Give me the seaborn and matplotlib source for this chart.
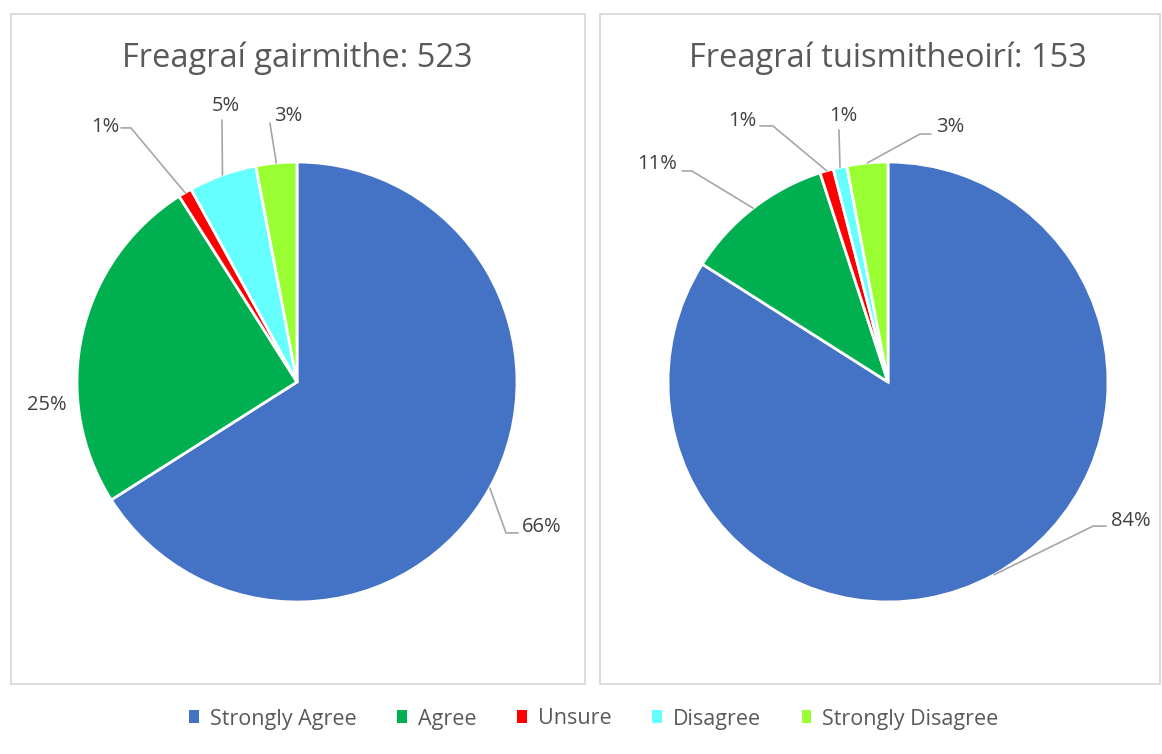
import numpy as np
import matplotlib.pyplot as plt
import seaborn as sns
from matplotlib.patches import Patch, Rectangle

categories = ["Strongly Agree", "Agree", "Unsure", "Disagree", "Strongly Disagree"]
professionals = [66, 25, 1, 5, 3]
parents = [84, 11, 1, 1, 3]
titles = ["Freagraí gairmithe: 523", "Freagraí tuismitheoirí: 153"]

colors = ["#4472C4", "#00B050", "#FF0000", "#66FFFF", "#99FF33"]

# label placement in pie-radius units: (text pos, leader points after the wedge edge)
left_layout = [
    ((1.114, -0.659), [(0.950, -0.686), (1.005, -0.686)]),
    ((-1.136, -0.105), None),
    ((-0.873, 1.159), [(-0.755, 1.155), (-0.80, 1.155)]),
    ((-0.323, 1.255), [(-0.341, 1.191)]),
    ((-0.041, 1.209), [(-0.123, 1.177)]),
]
right_layout = [
    ((1.105, -0.632), [(0.932, -0.655), (0.991, -0.655)]),
    ((-1.05, 0.991), [(-0.891, 0.959), (-0.936, 0.959)]),
    ((-0.664, 1.186), [(-0.523, 1.164), (-0.582, 1.164)]),
    ((-0.205, 1.209), [(-0.223, 1.145)]),
    ((0.282, 1.159), [(0.145, 1.127), (0.195, 1.127)]),
]

sns.set_theme(style="white")
plt.rcParams['font.family'] = ['Open Sans', 'DejaVu Sans']

W, H = 1162, 754
fig = plt.figure(figsize=(W / 100, H / 100), dpi=100)

# panel frames
for x0, x1 in [(11, 585), (600, 1160)]:
    fig.patches.append(Rectangle((x0 / W, 1 - 684 / H), (x1 - x0) / W, (684 - 14) / H,
                                 transform=fig.transFigure, fill=False,
                                 edgecolor="#D9D9D9", linewidth=1.3))

panels = [(297, professionals, left_layout, titles[0]),
          (888, parents, right_layout, titles[1])]

for cx, vals, layout, title in panels:
    ax = fig.add_axes([(cx - 220) / W, (754 - 602) / H, 440 / W, 440 / H])
    wedges, _ = ax.pie(vals, colors=colors, startangle=90, counterclock=False,
                       wedgeprops=dict(edgecolor="white", linewidth=2))
    ax.set_xlim(-1, 1)
    ax.set_ylim(-1, 1)
    ax.set_aspect("equal")
    ax.axis("off")
    for w, v, (tpos, leader) in zip(wedges, vals, layout):
        mid = np.deg2rad((w.theta1 + w.theta2) / 2)
        if leader:
            pts = [(np.cos(mid), np.sin(mid))] + leader
            xs, ys = zip(*pts)
            ax.plot(xs, ys, color="#A6A6A6", linewidth=1.2, clip_on=False)
        ax.text(tpos[0], tpos[1], f"{v}%", ha="center", va="center",
                fontsize=14.5, color="#404040")
    fig.text(cx / W, 1 - 58 / H, title, ha="center", va="center",
             fontsize=23.5, color="#595959")

handles = [Patch(facecolor=c, edgecolor="none") for c in colors]
fig.legend(handles, categories, loc="center", bbox_to_anchor=(0.511, 1 - 719 / H),
           ncol=5, frameon=False, fontsize=15.5, handlelength=0.45, handleheight=0.55,
           handletextpad=0.5, columnspacing=1.9, labelcolor="#595959")

fig.savefig("out.png", dpi=100)
